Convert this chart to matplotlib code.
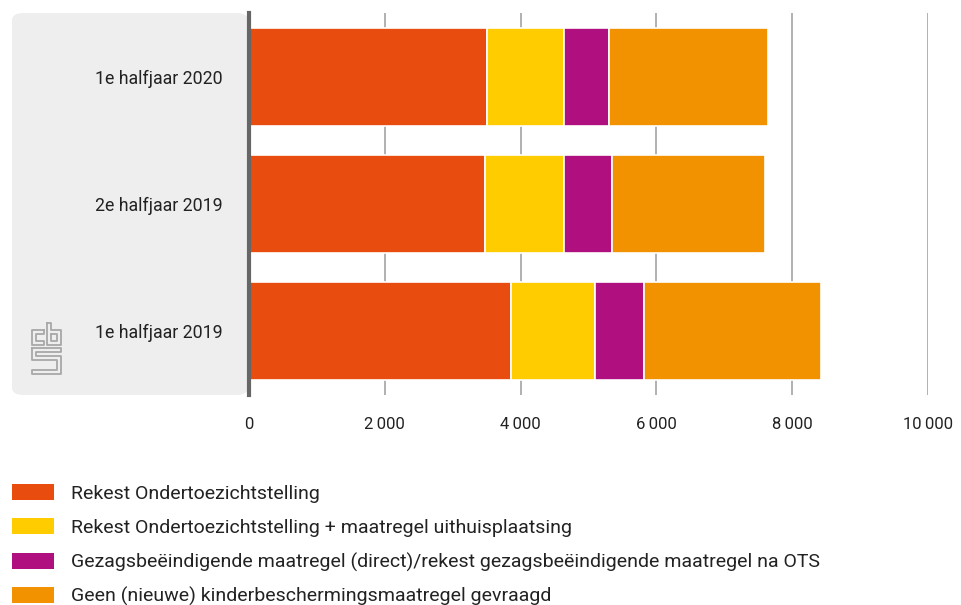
import matplotlib.pyplot as plt
from matplotlib.patches import FancyBboxPatch, Patch
from matplotlib.lines import Line2D

periods = ["1e halfjaar 2019", "2e halfjaar 2019", "1e halfjaar 2020"]

series_names = [
    "Rekest Ondertoezichtstelling",
    "Rekest Ondertoezichtstelling + maatregel uithuisplaatsing",
    "Gezagsbeëindigende maatregel (direct)/rekest gezagsbeëindigende maatregel na OTS",
    "Geen (nieuwe) kinderbeschermingsmaatregel gevraagd",
]
rekest_ots = [3860, 3470, 3510]
rekest_ots_uhp = [1235, 1170, 1130]
gezagsbeeindigend = [720, 705, 660]
geen_maatregel = [2610, 2260, 2340]

colors = ["#e84c0e", "#ffcc00", "#af0f7f", "#f39200"]

x_ticks = [0, 2000, 4000, 6000, 8000, 10000]
x_tick_labels = ["0", "2\u2009000", "4\u2009000", "6\u2009000", "8\u2009000", "10\u2009000"]

FONT = ["Roboto", "DejaVu Sans"]
TEXT_COLOR = "#222222"


def main():
    plt.rcParams["font.family"] = FONT

    fig = plt.figure(figsize=(9.61, 6.05), dpi=100)
    W, H = 961, 605

    # grey label panel behind the category labels
    panel = FancyBboxPatch(
        (12 / W, 1 - 395 / H), (236 / W), (382 / H),
        boxstyle="round,pad=0,rounding_size=0.012",
        transform=fig.transFigure, facecolor="#eeeeee", edgecolor="none",
        zorder=-5,
    )
    fig.patches.append(panel)

    ax = fig.add_axes([249 / W, 1 - 395 / H, (928 - 249) / W, 382 / H])
    ax.set_facecolor("none")
    ax.set_zorder(2)

    series = [rekest_ots, rekest_ots_uhp, gezagsbeeindigend, geen_maatregel]
    left = [0] * len(periods)
    for values, color, name in zip(series, colors, series_names):
        ax.barh(
            periods, values, left=left, height=0.77, color=color,
            edgecolor="white", linewidth=1.2, label=name, zorder=3,
        )
        left = [a + b for a, b in zip(left, values)]

    ax.set_xlim(0, 10000)
    ax.set_ylim(-0.5, 2.5)
    ax.set_xticks(x_ticks)
    ax.set_xticklabels(x_tick_labels)
    ax.tick_params(axis="x", length=0, pad=16, labelsize=12, labelcolor=TEXT_COLOR)
    ax.tick_params(axis="y", length=0, pad=19, labelsize=12.8, labelcolor=TEXT_COLOR)
    ax.grid(axis="x", color="#b0b0b0", linewidth=1.4, zorder=0)
    ax.set_axisbelow(True)

    for side in ["top", "right", "bottom"]:
        ax.spines[side].set_visible(False)
    ax.spines["left"].set_color("#666666")
    ax.spines["left"].set_linewidth(3)
    ax.spines["left"].set_zorder(5)

    # small CBS-style logo in the panel
    logo_color = "#a8a8a8"

    def px(x, y):
        return x / W, 1 - y / H

    logo_paths = [
        [(44, 330), (32, 330), (32, 345), (44, 345), (44, 341), (36, 341), (36, 334), (44, 334), (44, 330)],
        [(47, 323), (51, 323), (51, 330), (61, 330), (61, 345), (47, 345), (47, 323)],
        [(51, 334), (57, 334), (57, 341), (51, 341), (51, 334)],
        [(32, 348), (61, 348), (61, 352), (36, 352), (36, 356), (61, 356), (61, 374),
         (32, 374), (32, 370), (57, 370), (57, 360), (32, 360), (32, 348)],
    ]
    for path in logo_paths:
        xs, ys = zip(*[px(x, y) for x, y in path])
        fig.add_artist(Line2D(xs, ys, color=logo_color, linewidth=1.3,
                              transform=fig.transFigure))

    handles = [Patch(facecolor=c, edgecolor="none") for c in colors]
    fig.legend(
        handles, series_names,
        loc="upper left", bbox_to_anchor=(12 / W, 1 - 484 / H),
        frameon=False, fontsize=14, labelcolor=TEXT_COLOR,
        handlelength=2.16, handleheight=0.88, handletextpad=0.88,
        labelspacing=0.8, borderpad=0, borderaxespad=0,
    )

    fig.savefig("out.png", dpi=100)
    plt.close(fig)


if __name__ == "__main__":
    main()
